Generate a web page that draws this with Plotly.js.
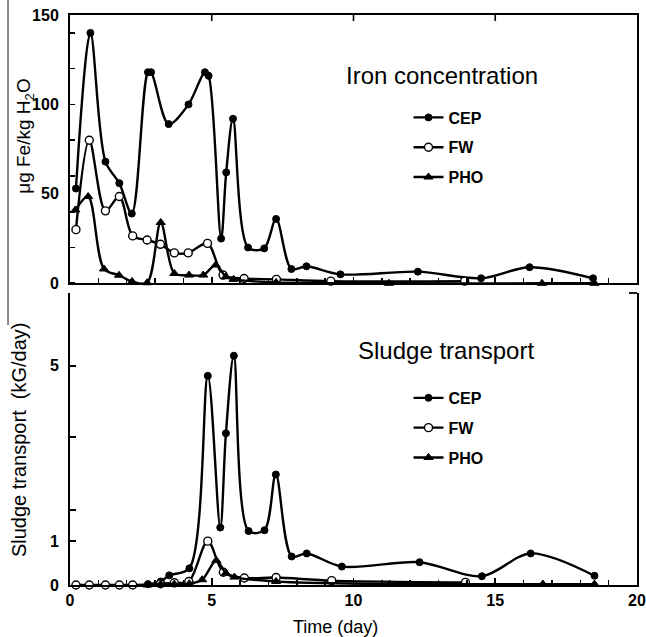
<!DOCTYPE html>
<html>
<head>
<meta charset="utf-8">
<script src="https://cdn.plot.ly/plotly-3.0.1.min.js"></script>
<style>html,body{margin:0;padding:0;background:#fff;}#chart{width:646px;height:637px;}</style>
</head>
<body>
<div id="chart"></div>
<script>
// ---- Iron concentration (µg Fe/kg H2O) ----
const ironCEP_day = [0.21, 0.72, 1.25, 1.74, 2.18, 2.75, 2.86, 3.48, 4.18, 4.76, 4.89, 5.33, 5.51, 5.75, 6.28, 6.85, 7.27, 7.81, 8.34, 9.54, 12.27, 14.5, 16.21, 18.45];
const ironCEP_val = [53, 140, 68, 56, 39, 118, 118, 89, 100, 118, 116, 25, 62, 92, 20, 19.5, 36, 8, 9.5, 5, 6.5, 2.8, 9, 2.8];
const ironFW_day = [0.21, 0.68, 1.25, 1.74, 2.21, 2.72, 3.19, 3.68, 4.17, 4.85, 5.4, 6.14, 7.28, 9.2, 13.92];
const ironFW_val = [30, 80, 40.5, 48.5, 26.5, 24.2, 21.8, 17, 17, 22.3, 4.6, 2.7, 2.2, 1.2, 1.2];
const ironPHO_day = [0.19, 0.64, 1.2, 1.73, 2.19, 2.72, 3.2, 3.68, 4.2, 4.7, 5.14, 5.5, 5.77, 7.27, 11.25, 16.65, 18.5];
const ironPHO_val = [41, 48.5, 8, 4.5, 1, 0.3, 34, 5.5, 4.6, 4.6, 10.2, 3.7, 2.2, 0.5, 0, 0, 0];

// ---- Sludge transport (kG/day) ----
const sludgeCEP_day = [2.75, 3.2, 3.5, 4.21, 4.86, 5.3, 5.5, 5.78, 6.3, 6.86, 7.26, 7.82, 8.35, 9.59, 12.33, 14.53, 16.25, 18.5];
const sludgeCEP_val = [0.02, 0.08, 0.22, 0.38, 4.77, 1.31, 3.46, 5.23, 1.23, 1.25, 2.52, 0.65, 0.72, 0.42, 0.52, 0.2, 0.72, 0.21];
const sludgeFW_day = [0.21, 0.68, 1.25, 1.74, 2.21, 3.19, 3.68, 4.19, 4.86, 5.41, 6.15, 7.27, 9.23, 13.95];
const sludgeFW_val = [0, 0, 0, 0, 0, 0.03, 0.05, 0.08, 1.0, 0.29, 0.16, 0.17, 0.1, 0.06];
const sludgePHO_day = [2.74, 3.2, 3.68, 4.21, 4.66, 5.16, 5.5, 5.8, 7.27, 11.27, 16.68, 18.5];
const sludgePHO_val = [0, 0.02, 0.02, 0.03, 0.12, 0.56, 0.27, 0.18, 0.08, 0.02, 0.02, 0.02];

const seriesNames = ['CEP', 'FW', 'PHO'];
const xTickVals = [0, 5, 10, 15, 20];
const xTickText = ['0', '5', '10', '15', '20'];
const xTopTickVals = [5, 10, 15];
const ironTickVals = [0, 50, 100, 150];
const ironTickText = ['0', '50', '100', '150'];
const sludgeTickVals = [0, 1, 1.71, 3.38, 5, 6.66];
const sludgeTickText = ['0', '1', '', '', '5', ''];
const xTitle = 'Time (day)';
const ironTitle = 'μg Fe/kg H<sub>2</sub>O';
const sludgeTitle = 'Sludge transport  (kG/day)';
const ironLabel = 'Iron concentration';
const sludgeLabel = 'Sludge transport';

const FONT = 'Liberation Sans, Arial, Helvetica, sans-serif';
const bold = arr => arr.map(t => t === '' ? '' : '<b>' + t + '</b>');
const lineStyle = {color: '#000', width: 2.4, shape: 'spline', smoothing: 0.9};
const markers = [
  {symbol: 'circle', size: 7, color: '#000', line: {color: '#000', width: 1}},
  {symbol: 'circle', size: 8, color: '#fff', line: {color: '#000', width: 1.4}},
  {symbol: 'triangle-up', size: 8, color: '#000', line: {color: '#000', width: 1}}
];

function tr(x, y, i, xa, ya, leg) {
  return {
    x: x, y: y, name: '<b>' + seriesNames[i] + '</b>', type: 'scatter', mode: 'lines+markers',
    xaxis: xa, yaxis: ya, legend: leg, legendgroup: leg + i,
    line: lineStyle, marker: markers[i], cliponaxis: false
  };
}

const data = [
  tr(ironCEP_day, ironCEP_val, 0, 'x', 'y', 'legend'),
  tr(ironFW_day, ironFW_val, 1, 'x', 'y', 'legend'),
  tr(ironPHO_day, ironPHO_val, 2, 'x', 'y', 'legend'),
  tr(sludgeCEP_day, sludgeCEP_val, 0, 'x2', 'y2', 'legend2'),
  tr(sludgeFW_day, sludgeFW_val, 1, 'x2', 'y2', 'legend2'),
  tr(sludgePHO_day, sludgePHO_val, 2, 'x2', 'y2', 'legend2')
];

const axBase = {showgrid: false, zeroline: false, linecolor: '#000', linewidth: 2,
  tickcolor: '#000', tickwidth: 1.6, tickfont: {family: FONT, size: 16, color: '#000'}};
const minorX = {dtick: 1, tick0: 0, ticks: 'inside', ticklen: 5, tickcolor: '#000', tickwidth: 1.5};

const legBase = {
  font: {family: FONT, size: 16, color: '#000'},
  bgcolor: 'rgba(0,0,0,0)', borderwidth: 0, itemwidth: 30,
  traceorder: 'grouped', tracegroupgap: 6, xanchor: 'left', yanchor: 'top'
};

// small decorative tick marks on the top edge of the upper panel and the top-right corner of the lower panel
const topTickShapes = xTopTickVals.map(v => ({type: 'line', xref: 'x', yref: 'paper', x0: v, x1: v,
  y0: 1, y1: 1 - 6 / 570, line: {color: '#000', width: 1.6}}));

const layout = {
  width: 646, height: 637,
  margin: {l: 70, r: 9, t: 15, b: 52, pad: 0},
  paper_bgcolor: '#fff', plot_bgcolor: '#fff',
  showlegend: true,
  font: {family: FONT, color: '#000'},
  xaxis: Object.assign({}, axBase, {domain: [0, 1], anchor: 'y', range: [0, 20], showline: true, mirror: true,
    tickmode: 'array', tickvals: xTickVals, ticks: 'inside', ticklen: 6, showticklabels: false,
    minor: minorX}),
  yaxis: Object.assign({}, axBase, {domain: [0.5293, 1], anchor: 'x', range: [0, 150], showline: true, mirror: true,
    tickmode: 'array', tickvals: ironTickVals, ticktext: bold(ironTickText), ticks: '', ticklabelstandoff: 6,
    minor: {tickmode: 'linear', tick0: 0, dtick: 20, ticks: 'inside', ticklen: 5, tickcolor: '#000', tickwidth: 1.6}}),
  xaxis2: Object.assign({}, axBase, {domain: [0, 1], anchor: 'y2', range: [0, 20], showline: true,
    tickmode: 'array', tickvals: xTickVals, ticktext: bold(xTickText), ticks: 'inside', ticklen: 7,
    minor: minorX}),
  yaxis2: Object.assign({}, axBase, {domain: [0, 0.5123], anchor: 'x2', range: [0, 6.66], showline: true, mirror: true,
    tickmode: 'array', tickvals: sludgeTickVals, ticktext: bold(sludgeTickText), ticks: 'inside', ticklen: 6, ticklabelstandoff: 6}),
  legend: Object.assign({}, legBase, {x: 0.597, y: 0.85}),
  legend2: Object.assign({}, legBase, {x: 0.597, y: 0.358}),
  annotations: [
    {text: ironLabel, xref: 'paper', yref: 'paper', x: 0.656, y: 0.893, showarrow: false,
      xanchor: 'center', yanchor: 'middle', font: {family: FONT, size: 24, color: '#000'}},
    {text: sludgeLabel, xref: 'paper', yref: 'paper', x: 0.663, y: 0.412, showarrow: false,
      xanchor: 'center', yanchor: 'middle', font: {family: FONT, size: 24, color: '#000'}},
    {text: ironTitle, xref: 'paper', yref: 'paper', x: -0.0794, y: 0.788, textangle: -90, showarrow: false,
      xanchor: 'center', yanchor: 'middle', font: {family: FONT, size: 19, color: '#000'}},
    {text: sludgeTitle, xref: 'paper', yref: 'paper', x: -0.09, y: 0.256, textangle: -90, showarrow: false,
      xanchor: 'center', yanchor: 'middle', font: {family: FONT, size: 20, color: '#000'}},
    {text: xTitle, xref: 'paper', yref: 'paper', x: 0.469, y: -0.0737, showarrow: false,
      xanchor: 'center', yanchor: 'middle', font: {family: FONT, size: 18, color: '#000'}}
  ],
  shapes: topTickShapes.concat([
    {type: 'line', xref: 'paper', yref: 'paper', x0: 1, x1: 1 - 8 / 567, y0: 0.5123, y1: 0.5123,
      line: {color: '#000', width: 1.8}},
    {type: 'line', xref: 'paper', yref: 'paper', x0: -0.1093, x1: -0.1093, y0: 1.0263, y1: 0.456,
      line: {color: '#8a8a8a', width: 2}}
  ])
};

Plotly.newPlot('chart', data, layout, {displayModeBar: false, staticPlot: true});
</script>
</body>
</html>
